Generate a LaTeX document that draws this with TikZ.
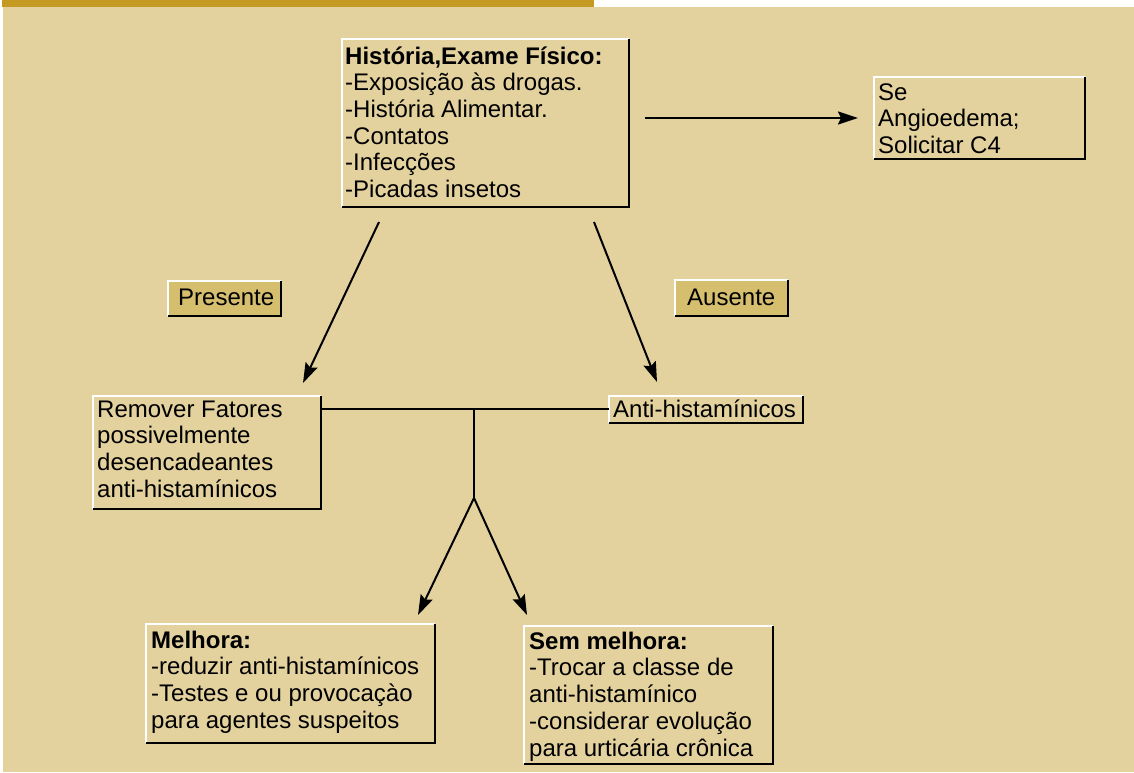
\documentclass[tikz,border=0pt]{standalone}
\usepackage{fontspec}
\setmainfont{Liberation Sans}
\usetikzlibrary{arrows.meta}
\definecolor{bg}{HTML}{E3D29E}
\definecolor{gold}{HTML}{C49A22}
\definecolor{lab}{HTML}{D5BE6E}
\newcommand\bevelbox[1]{%
  \draw[white,line width=2pt] (#1.south west) -- (#1.north west) -- (#1.north east);
  \draw[black,line width=2.6pt] (#1.north east) -- (#1.south east) -- (#1.south west);}
\begin{document}
\begin{tikzpicture}[x=1pt,y=-1pt,
  boxsh/.style={anchor=north west,inner sep=0pt,outer sep=0pt,fill=bg},
  txt/.style={anchor=north west,inner sep=0pt,align=left,font=\fontsize{24}{26.7}\selectfont},
  conn/.style={line width=2pt},
  arr/.style={line width=2pt,-{Stealth[length=20pt,width=13pt,inset=3pt]}}]
% background
\fill[white] (0,0) rectangle (1134,772);
\useasboundingbox (0,0) rectangle (1134,772);
\fill[bg] (3,7) rectangle (1134,772);
\fill[gold] (2,0) rectangle (594,7);
% boxes
\node[boxsh,minimum width=287pt,minimum height=168pt] (top) at (342,39) {};
\node[boxsh,minimum width=211pt,minimum height=82pt] (angio) at (874,77) {};
\node[boxsh,fill=lab,minimum width=113pt,minimum height=35pt] (pres) at (168,281) {};
\node[boxsh,fill=lab,minimum width=113pt,minimum height=36pt] (aus) at (675,280) {};
\node[boxsh,minimum width=228pt,minimum height=113pt] (rem) at (93,396) {};
\node[boxsh,minimum width=194pt,minimum height=27pt] (anti) at (609,396) {};
\node[boxsh,minimum width=289pt,minimum height=119pt] (mel) at (146,624) {};
\node[boxsh,minimum width=249pt,minimum height=138pt] (sem) at (524,626) {};
\bevelbox{top}\bevelbox{angio}\bevelbox{pres}\bevelbox{aus}
\bevelbox{rem}\bevelbox{anti}\bevelbox{mel}\bevelbox{sem}
% texts
\node[txt] (ttop) at (345,45.3) {\strut\textbf{História,Exame Físico:}\\-Exposição às drogas.\\-História Alimentar.\\-Contatos\\-Infecções\\-Picadas insetos};
\node[txt] (tangio) at (878,81.3) {\strut Se\\Angioedema;\\Solicitar C4};
\node[txt] (tpres) at (178,286.3) {\strut Presente};
\node[txt] (taus) at (687,286.3) {\strut Ausente};
\node[txt] (trem) at (97,398.3) {\strut Remover Fatores\\possivelmente\\desencadeantes\\anti-histamínicos};
\node[txt] (tanti) at (613,398.3) {\strut Anti-histamínicos};
\node[txt] (tmel) at (151,629.3) {\strut\textbf{Melhora:}\\-reduzir anti-histamínicos\\-Testes e ou provocaçào\\para agentes suspeitos};
\node[txt] (tsem) at (529,630.3) {\strut\textbf{Sem melhora:}\\-Trocar a classe de\\anti-histamínico\\-considerar evolução\\para urticária crônica};
% connector points
\coordinate (a1) at (645,118);
\coordinate (a4) at (858,118);
\coordinate (a2) at (379,222);
\coordinate (a3) at (594,222);
\coordinate (p1) at (303,383);
\coordinate (p2) at (657,382);
\coordinate (j1) at (474,409);
\coordinate (j2) at (474,498);
\coordinate (m1) at (418,615);
\coordinate (s1) at (527,615);
\draw[arr] (a1) -- (a4);
\draw[arr] (a2) -- (p1);
\draw[arr] (a3) -- (p2);
\draw[conn] (rem.north east |- j1) -- (anti.west |- j1);
\draw[conn] (j1) -- (j2);
\draw[arr] (j2) -- (m1);
\draw[arr] (j2) -- (s1);
\end{tikzpicture}
\end{document}
